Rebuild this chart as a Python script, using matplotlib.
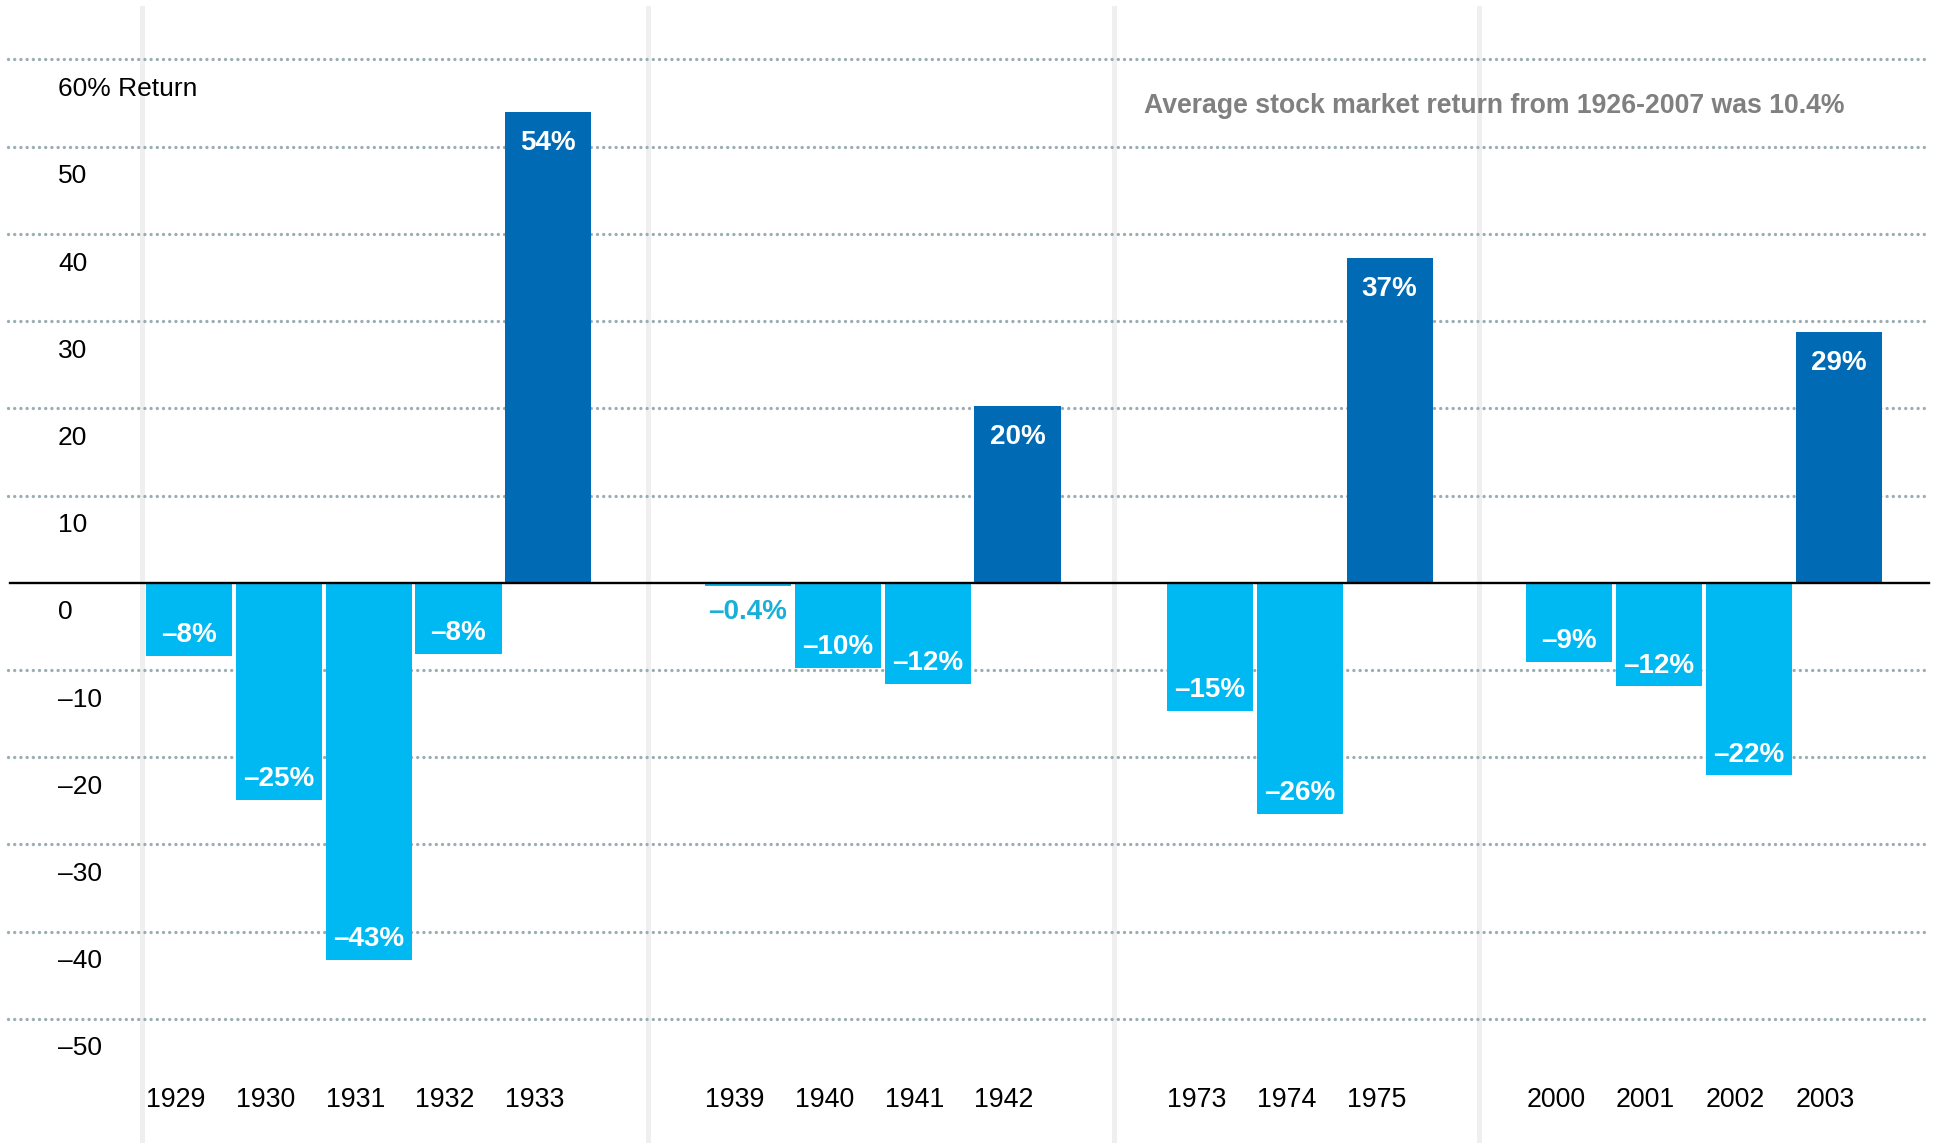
import matplotlib.pyplot as plt

plt.rcParams["font.family"] = ["Liberation Sans", "DejaVu Sans"]

# annual returns (%) around the four bear markets
YEARS = ["1929", "1930", "1931", "1932", "1933",
         "1939", "1940", "1941", "1942",
         "1973", "1974", "1975",
         "2000", "2001", "2002", "2003"]
RETURNS = [-8.4, -24.9, -43.3, -8.2, 54.0,
           -0.4, -9.8, -11.6, 20.3,
           -14.7, -26.5, 37.2,
           -9.1, -11.9, -22.1, 28.7]
VALUE_LABELS = ["\u20138%", "\u201325%", "\u201343%", "\u20138%", "54%",
                "\u20130.4%", "\u201310%", "\u201312%", "20%",
                "\u201315%", "\u201326%", "37%",
                "\u20139%", "\u201312%", "\u201322%", "29%"]
GROUP_SIZES = [5, 4, 3, 4]
Y_TICKS = [60, 50, 40, 30, 20, 10, 0, -10, -20, -30, -40, -50]
NOTE = "Average stock market return from 1926-2007 was 10.4%"

NEG_COLOR = "#00B9F2"
POS_COLOR = "#016AB4"
GRID_COLOR = "#9AADB3"
SEP_COLOR = "#EFEFEF"
GROUP_GAPS = [2.225, 2.145, 2.0]
BAR_W = 0.96
TICK_PAD = 3.4
POS_PAD = 3.55
NEG_PAD = 2.4

fig = plt.figure(figsize=(19.35, 11.43), dpi=100)
ax = fig.add_axes([0, 0, 1, 1])
ax.set_xlim(-2.105, 19.443)
ax.set_ylim(-64.25, 66.82)
ax.axis("off")

# bar positions: unit pitch inside a group, wider gap between groups
xs = []
group_bounds = []
pos = 0.0
for g, n in enumerate(GROUP_SIZES):
    if g:
        pos += GROUP_GAPS[g - 1] - 1
    start = pos
    for i in range(n):
        xs.append(pos)
        pos += 1
    group_bounds.append((start, pos - 1))

# vertical separators
seps = [group_bounds[0][0] - 0.52]
for (s0, e0), (s1, e1) in zip(group_bounds[:-1], group_bounds[1:]):
    seps.append((e0 + s1) / 2)
for sx in seps:
    ax.axvline(sx, ymin=0, ymax=0.993, color=SEP_COLOR, lw=3.6, zorder=0)

# grid
for v in Y_TICKS:
    if v == 0:
        ax.axhline(0, xmin=0.005, xmax=0.997, color="black", lw=1.7, zorder=3)
    else:
        ax.axhline(v, xmin=0.004, xmax=0.995, color=GRID_COLOR, lw=2.4,
                   linestyle=(0, (0.01, 1.85)), dash_capstyle="round", zorder=1)
    lab = "60% Return" if v == 60 else str(v).replace("-", "\u2013")
    ax.text(0.030, v - TICK_PAD, lab, transform=ax.get_yaxis_transform(),
            ha="left", va="center", fontsize=19, color="black")

colors = [POS_COLOR if r > 0 else NEG_COLOR for r in RETURNS]
ax.bar(xs, RETURNS, width=BAR_W, color=colors, zorder=2)

for x, r, lab, yr in zip(xs, RETURNS, VALUE_LABELS, YEARS):
    if abs(r) < 2:
        ax.text(x, r - 3.0, lab, ha="center", va="center",
                fontsize=20, fontweight="bold", color="#19AFD9", zorder=4)
    else:
        y = r - POS_PAD if r > 0 else r + NEG_PAD
        ax.text(x, y, lab, ha="center", va="center",
                fontsize=20, fontweight="bold", color="white", zorder=4)
    ax.text(x - BAR_W / 2, -59.3, yr, ha="left", va="center",
            fontsize=19.3, color="black")

ax.text(0.591, 0.907, NOTE, transform=ax.transAxes, ha="left", va="center",
        fontsize=19.2, fontweight="bold", color="#808080")

fig.savefig("out.png", dpi=100)
